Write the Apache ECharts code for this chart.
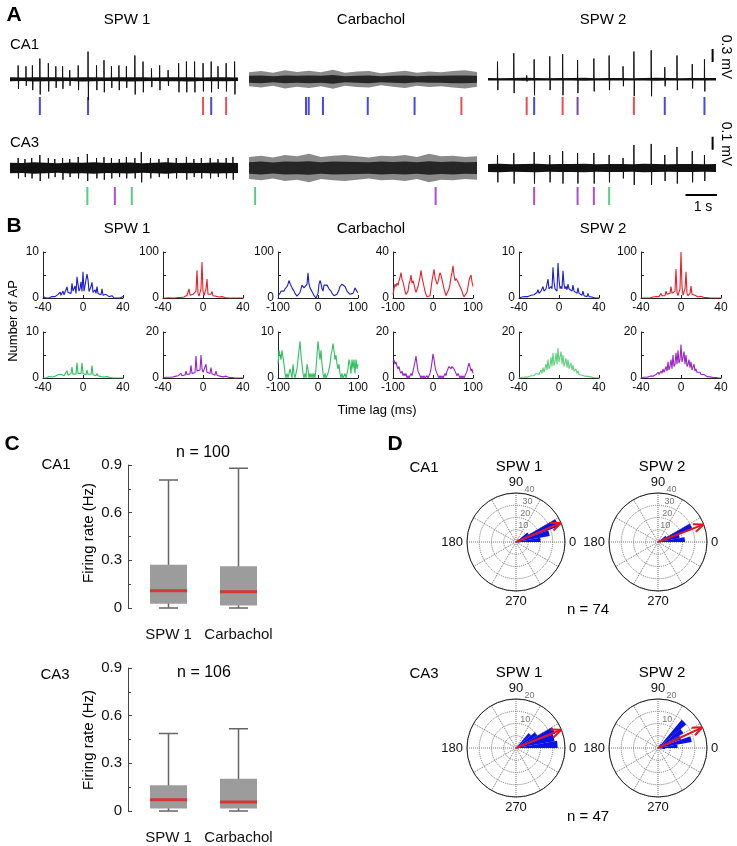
<!DOCTYPE html>
<html><head><meta charset="utf-8">
<script src="https://cdn.jsdelivr.net/npm/echarts@6/dist/echarts.min.js"></script>
<style>html,body{margin:0;padding:0;background:#fff}#c{width:737px;height:846px}</style>
</head><body><div id="c"></div>
<script>
// ================= DATA =================
// Panel A: spike times (s), peak (mV), trough (mV); noise envelope half-widths (mV)
const ca1Spw1SpikeT = [0.24,0.47,0.66,0.88,1.13,1.35,1.55,1.76,2.01,2.30,2.55,2.77,2.99,3.21,3.43,3.68,3.92,4.17,4.41,4.66,4.97,5.20,5.44,5.69,5.93,6.13,6.37,6.62];
const ca1Spw1Peak = [0.32,0.30,0.32,0.48,0.37,0.30,0.30,0.21,0.32,0.64,0.32,0.44,0.30,0.32,0.30,0.55,0.41,0.25,0.32,0.21,0.37,0.41,0.41,0.37,0.41,0.30,0.37,0.41];
const ca1Spw1Trough = [-0.22,-0.15,-0.25,-0.35,-0.28,-0.2,-0.22,-0.15,-0.25,-0.48,-0.25,-0.3,-0.2,-0.25,-0.2,-0.35,-0.3,-0.18,-0.25,-0.15,-0.3,-0.3,-0.3,-0.28,-0.3,-0.22,-0.28,-0.35];
const ca1Spw1Noise = [0.045,0.04,0.05,0.045,0.045,0.04,0.05,0.045,0.04,0.045,0.05,0.045,0.04,0.045,0.045,0.05,0.04,0.045,0.045,0.04];
const ca1CarbNoiseOuter = [0.16,0.19,0.15,0.21,0.17,0.2,0.16,0.22,0.15,0.18,0.19,0.14,0.17,0.2,0.15,0.18,0.16,0.19,0.21,0.17];
const ca1CarbNoiseInner = [0.08,0.09,0.07,0.09,0.08,0.09,0.08,0.1,0.07,0.08,0.09,0.07,0.08,0.09,0.07,0.08,0.08,0.09,0.09,0.08];
const ca1Spw2SpikeT = [0.28,0.76,1.14,1.36,1.82,2.20,2.64,3.12,3.57,3.98,4.30,4.81,5.21,5.57,6.02,6.38];
const ca1Spw2Peak = [0.41,0.60,0.09,0.46,0.53,0.58,0.44,0.48,0.55,0.30,0.64,0.67,0.28,0.55,0.35,0.46];
const ca1Spw2Trough = [-0.25,-0.32,-0.05,-0.37,-0.25,-0.37,-0.32,-0.28,-0.25,-0.16,-0.39,-0.39,-0.16,-0.25,-0.21,-0.28];
const ca1Spw2Noise = [0.03,0.025,0.03,0.035,0.03,0.025,0.03,0.03,0.035,0.025,0.03,0.03,0.025,0.03,0.035,0.03,0.025,0.03,0.03,0.03];

const ca3Spw1SpikeT = [0.24,0.44,0.64,0.88,1.13,1.32,1.55,1.76,2.01,2.28,2.55,2.77,2.99,3.22,3.43,3.68,3.87,4.14,4.39,4.66,4.90,5.20,5.42,5.64,5.90,6.13,6.37,6.57];
const ca3Spw1Peak = [0.077,0.069,0.077,0.10,0.077,0.069,0.077,0.069,0.085,0.108,0.077,0.085,0.077,0.069,0.085,0.077,0.123,0.077,0.069,0.077,0.077,0.085,0.069,0.077,0.077,0.069,0.077,0.085];
const ca3Spw1Trough = [-0.08,-0.07,-0.08,-0.1,-0.08,-0.07,-0.09,-0.07,-0.08,-0.1,-0.08,-0.09,-0.08,-0.07,-0.08,-0.08,-0.11,-0.08,-0.07,-0.08,-0.08,-0.09,-0.07,-0.08,-0.08,-0.07,-0.08,-0.09];
const ca3Spw1Noise = [0.04,0.038,0.045,0.04,0.036,0.042,0.04,0.045,0.038,0.04,0.043,0.037,0.04,0.044,0.039,0.041,0.038,0.043,0.04,0.039];
const ca3CarbNoiseOuter = [0.085,0.095,0.08,0.1,0.09,0.11,0.085,0.095,0.1,0.09,0.08,0.095,0.09,0.1,0.085,0.11,0.09,0.095,0.085,0.09];
const ca3CarbNoiseInner = [0.045,0.05,0.042,0.05,0.048,0.052,0.045,0.05,0.048,0.046,0.044,0.05,0.047,0.05,0.045,0.052,0.046,0.05,0.045,0.047];
const ca3Spw2SpikeT = [0.28,0.76,1.36,1.82,2.20,2.64,3.12,3.57,3.98,4.30,4.81,5.21,5.57,6.02,6.38];
const ca3Spw2Peak = [0.10,0.115,0.123,0.10,0.13,0.115,0.115,0.10,0.077,0.177,0.185,0.10,0.162,0.13,0.10];
const ca3Spw2Trough = [-0.11,-0.12,-0.12,-0.11,-0.12,-0.12,-0.12,-0.11,-0.08,-0.13,-0.13,-0.1,-0.12,-0.11,-0.1];
const ca3Spw2Noise = [0.03,0.032,0.028,0.03,0.033,0.029,0.031,0.03,0.032,0.028,0.03,0.031,0.029,0.032,0.03,0.028,0.031,0.03,0.029,0.03];

// unit rasters: times (s) and unit colour keys
const ca1Spw1UnitT = [0.88,2.30,5.69,5.93,6.37];   const ca1Spw1UnitC = ['b','b','r','b','r'];
const ca1CarbUnitT = [1.68,1.76,2.18,3.50,4.88,6.26]; const ca1CarbUnitC = ['b','b','b','b','b','r'];
const ca1Spw2UnitT = [1.14,1.36,2.20,2.64,4.30,5.21,6.38]; const ca1Spw2UnitC = ['r','b','r','d','r','b','b'];
const ca3Spw1UnitT = [2.28,3.09,3.59];  const ca3Spw1UnitC = ['g','p','g'];
const ca3CarbUnitT = [0.18,5.50];       const ca3CarbUnitC = ['g','p'];
const ca3Spw2UnitT = [1.36,2.64,3.12,3.57]; const ca3Spw2UnitC = ['p','p','p','g'];

// scale bars
const scaleCA1 = 0.3, scaleCA3 = 0.1, scaleTime = 1;

// Panel B: cross-correlograms (number of AP per lag bin)
const hSpw1Ca1Blue = [0.3,0,0,0,0.3,0,0,0.3,0,0.3, 0,0.4,0.3,0.5,0.3,0.8,0.5,1.3,0.6,0.8, 1.5,0.7,1.0,0.8,2.4,1.2,1.0,1.6,1.0,3.2, 1.5,1.2,2.6,1.0,4.6,4.8,1.5,2.0,3.5,1.4, 5.7, 1.5,1.8,1.4,5.2,4.0,1.4,1.2,2.5,3.4,1.2, 1.0,1.8,1.0,2.5,1.0,0.9,1.2,0.7,2.0,0.6, 0.7,0.5,0.8,0.4,0.5,0.3,0.4,0.2,0.5,0.2, 0,0.2,0,0,0,0,0,0,0,0.3];
const hSpw1Ca1Red = [0,0,0,0,0,0,0.5,0,0,0, 1,0,0,1,0,1,1,2,1,2, 4,2,3,2,6,8,20,6,4,5, 8,4,5,15,60,10,4,6,20,78, 15, 5,5,20,41,8,4,4,8,14,5, 3,3,4,6,2,2,2,1,3,1, 1,1,0,1,0,0,0,0,0,0, 0,0,0,0,0,0,0,0,0,0];
const hCarbCa1Blue = [5,8,10,15,12,18,15,20,22,25, 30,38,32,28,22,18,15,10,6,4, 3,8,12,20,28,30,22,25,18,30, 55,30,22,25,18,10,5,2,0,0, 10, 30,38,32,20,15,28,30,25,28,25, 20,18,15,10,8,5,3,5,8,12, 18,25,22,30,33,28,25,20,15,18, 12,8,5,6,10,15,22,20,14,12];
const hCarbCa1Red = [3,8,12,10,13,11,15,18,22,16, 14,10,6,3,2,6,12,15,20,13, 15,12,8,5,6,10,14,18,24,18, 14,10,6,3,1,0,0,2,8,15, 20, 25,18,15,12,14,18,22,20,16,12, 8,5,2,1,3,8,12,18,22,28, 20,15,17,18,14,12,10,8,6,3, 1,0,2,5,10,15,18,20,14,10];
const hSpw2Ca1Blue = [0,0,0,0.2,0,0.2,0.3,0.2,0.4,0.3, 0.5,0.4,0.6,0.5,0.8,0.7,1.0,0.8,1.2,1.8, 1.0,1.3,1.5,1.2,2.5,1.5,1.6,2.0,1.8,4.1, 2.0,1.8,2.5,2.0,6.7,3.5,2.0,2.2,1.5,7.6, 4.0, 2.0,2.5,2.0,5.9,3.0,2.0,2.5,1.8,3.0,2.0, 1.8,2.0,1.5,2.8,1.5,1.3,1.5,1.0,2.2,1.0, 0.8,1.0,0.6,1.5,0.5,0.4,0.5,0.3,1.0,0.3, 0.2,0.3,0.2,0.6,0.1,0,0.1,0,0,0];
const hSpw2Ca1Red = [0,0,0,0,0,0,0,0,1,0, 1,1,2,1,2,3,2,4,3,4, 10,5,4,6,5,15,8,6,8,10, 25,10,6,8,15,63,12,5,8,20, 100, 25,6,8,20,57,10,5,6,10,26, 8,4,4,6,10,4,2,3,2,4, 2,1,1,2,1,1,0,1,0,1, 0,0,0,0,0,0,0,0,0,0];
const hSpw1Ca3Green = [0,0,0.1,0,0.2,0.1,0.3,0.2,0.4,0.2, 0.5,0.3,0.4,0.6,0.3,0.7,0.4,0.5,0.8,0.4, 0.9,0.5,0.6,0.8,1.6,0.6,0.7,0.9,1.0,2.4, 0.8,1.0,1.2,0.9,3.3,1.0,0.9,1.2,1.0,3.3, 1.0, 0.8,1.0,0.7,1.7,0.8,0.7,0.9,0.8,2.7,0.7, 0.6,0.8,0.5,1.0,0.5,0.4,0.6,0.3,0.7,0.3, 0.2,0.4,0.2,0.3,0.1,0.2,0.1,0.2,0.1,0, 0,0,0,0,0,0,0,0,0,0];
const hSpw1Ca3Purple = [0,0,0,0.3,0,0.2,0.3,0.2,0.5,0.3, 0.5,0.4,0.7,0.5,0.8,1.0,0.8,1.0,2.0,1.0, 1.2,1.5,1.3,3.0,1.5,1.8,2.0,1.8,5.5,2.0, 2.2,2.5,2.3,9.6,3.0,2.5,3.0,3.5,10,4.0, 2.5, 3.0,2.5,6.0,2.5,2.0,2.2,2.0,4.5,1.8,1.5, 1.6,1.2,3.0,1.2,1.0,1.0,0.8,1.5,0.6,0.5, 0.6,0.4,0.8,0.3,0.3,0.2,0.3,0.2,0.2,0.1, 0,0,0,0,0,0,0,0,0,0];
const hCarbCa3Green = [3,6,6,4,6,6,3,1,0,1, 0,0,2,1,0,3,1,0,1,2, 4,6,8,5,3,1,0,1,0,3, 2,0,1,0,1,0,1,0,2,5, 8, 8,4,6,3,1,0,1,0,0,1, 2,3,5,6,7.5,6,4,5,3,2, 3,1,0,1,0,0,1,0,0,2, 4,3,1,4,2,4,1,4,2,3];
const hCarbCa3Purple = [7,8,6,7,5,4,5,3,2,3, 1,2,1,2,0,1,0,1,2,1, 3,5,7,9.5,6,3,2,1,0,1, 0,1,0,0,1,0,1,2,4,7, 10.5, 8,5,3,2,1,0,1,0,1,0, 1,2,1,3,4,5,5,4,5,5, 4,3,2,1,2,1,0,1,0,1, 0,1,2,3,5,6.5,5,3,4,2];
const hSpw2Ca3Green = [0,0,0,0.2,0.3,0.2,0.4,0.3,0.5,0.4, 0.8,0.6,1.0,0.8,1.5,1.0,1.2,2.0,1.3,2.8, 1.5,2.0,3.5,2.0,4.5,2.5,3.0,6.0,3.5,8.0, 4.0,5.0,9.0,5.0,11,5.5,7.0,11,6.0,13, 7.0, 6.5,11.5,6.0,10,5.0,5.5,8.5,4.5,8.0,4.0, 4.0,6.5,3.5,5.5,3.0,2.5,4.0,2.0,3.0,1.5, 1.5,2.0,1.2,1.5,0.8,0.8,1.0,0.5,0.7,0.4, 0.3,0.5,0.2,0.3,0.1,0.2,0,0.1,0,0];
const hSpw2Ca3Purple = [0,0.2,0,0.3,0.2,0.5,0.3,0.6,0.5,0.8, 0.6,1.0,0.8,1.2,1.0,1.5,1.2,2.5,1.5,2.0, 3.0,2.0,4.0,2.5,3.0,5.0,3.0,7.0,3.5,5.0, 8.0,4.0,10,5.0,6.0,11,6.0,12,6.5,8.0, 14.5, 7.0,9.0,11.5,6.0,10,5.0,6.0,8.0,4.5,7.0, 3.5,4.0,6.0,3.0,4.0,2.5,3.0,2.0,2.5,1.5, 2.0,1.0,1.5,0.8,1.0,0.6,0.8,0.5,0.5,0.3, 0.4,0.2,0.3,0.2,0.2,0.1,0.1,0,0.1,0];
const histYMax = [10,100,100,40,10,100, 10,20,10,20,20,20];

// Panel C: firing rate box statistics (Hz)
const boxCats = ['SPW 1','Carbachol'];
const ca1Min = [0,0], ca1Q1 = [0.027,0.015], ca1Med = [0.109,0.103], ca1Q3 = [0.272,0.262], ca1Max = [0.806,0.879];
const ca3Min = [0,0], ca3Q1 = [0.015,0.015], ca3Med = [0.071,0.057], ca3Q3 = [0.162,0.203], ca3Max = [0.487,0.518];

// Panel D: phase rose histograms (36 bins of 10 deg) and mean vectors
const roseCa1Spw1 = [20,28,37,12,3,0,0,0,0,0,0,0,0,0,0,0,0,0,0,0,0,0,0,0,0,0,0,0,0,0,0,0,0,0,0,3];
const roseCa1Spw2 = [22,18,30,8,2,0,0,0,0,0,0,0,0,0,0,0,0,0,0,0,0,0,0,0,0,0,0,0,0,0,0,0,0,0,0,2];
const roseCa3Spw1 = [17,16,17,10,8,0,0,0,0,0,0,0,0,0,0,0,0,0,0,0,0,0,0,0,0,0,0,0,0,0,0,0,0,0,0,1];
const roseCa3Spw2 = [8,14,10,12,15,2,0,0,0,0,0,0,0,0,0,0,0,0,0,0,0,0,0,0,0,0,0,0,0,0,0,0,0,0,0,3];
const vecAngle = [23,21,22,25];
const vecLength = [40,40,20,20];

// ================= BUILD =================
const FONT = "'Liberation Sans', Arial, Helvetica, sans-serif";
const C = {b:'#1c1cd6', r:'#e8202a', g:'#30c060', p:'#9b22c9', d:'#4c1a8a', lg:'#5fd07e'};
const T_DUR = 6.72;
const grids=[], xAxes=[], yAxes=[], series=[], polars=[], angleAxes=[], radiusAxes=[], graphics=[];

function addGrid(g, xa, ya){ grids.push(g); const gi=grids.length-1; xa.gridIndex=gi; ya.gridIndex=gi; xAxes.push(xa); yAxes.push(ya); return gi; }

function addBand(gi, env, color){
  const n=env.length;
  const xs=env.map((_,i)=> i*T_DUR/(n-1));
  series.push({type:'custom', xAxisIndex:gi, yAxisIndex:gi, silent:true, clip:false,
    encode:{x:0, y:[1,2]},
    data: xs.map((x,i)=>[x,-env[i],env[i]]),
    renderItem:(params, api)=>{
      if (params.dataIndex!==0) return null;
      const up = xs.map((x,i)=>api.coord([x, env[i]]));
      const lo = xs.map((x,i)=>api.coord([x, -env[i]])).reverse();
      return {type:'polygon', shape:{points: up.concat(lo)}, style:{fill:color}};
    }});
}
function addTrace(left, top, height, ymin, ymax, sT, sP, sN, layers){
  const gi = addGrid({left, top, width:228, height}, {type:'value', min:0, max:T_DUR, show:false}, {type:'value', min:ymin, max:ymax, show:false});
  layers.forEach(L=> addBand(gi, L.env, L.color));
  if (sT) {
    const pts=[[0,0]];
    sT.forEach((t,i)=>{ pts.push([t-0.004,0],[t,sP[i]],[t+0.01,sN[i]],[t+0.018,0]); });
    pts.push([T_DUR,0]);
    series.push({type:'line', xAxisIndex:gi, yAxisIndex:gi, symbol:'none', silent:true, lineStyle:{color:'#111', width:1}, data:pts});
  }
  return gi;
}
function addRaster(left, top, times, keys){
  const gi = addGrid({left, top, width:228, height:18}, {type:'value', min:0, max:T_DUR, show:false}, {type:'value', min:0, max:1, show:false});
  series.push({type:'scatter', xAxisIndex:gi, yAxisIndex:gi, symbol:'rect', symbolSize:[2,18], silent:true,
    data: times.map((t,i)=>({value:[t,0.5], itemStyle:{color:C[keys[i]]}}))});
  return gi;
}
// CA1 row: 43.3 px/mV, baseline y=79.3 ; CA3 row: 130 px/mV, baseline y=168
const ca1Top = 79.3-0.85*43.3, ca1H = 1.6*43.3;
const ca3Top = 168-0.3*130, ca3H = 0.55*130;
const colLeft = [10,249,488];
addTrace(colLeft[0], ca1Top, ca1H, -0.75, 0.85, ca1Spw1SpikeT, ca1Spw1Peak, ca1Spw1Trough, [{env:ca1Spw1Noise, color:'#111'}]);
addTrace(colLeft[1], ca1Top, ca1H, -0.75, 0.85, null, null, null, [{env:ca1CarbNoiseOuter, color:'#8a8a8a'},{env:ca1CarbNoiseInner, color:'#262626'}]);
const gCa1Spw2 = addTrace(colLeft[2], ca1Top, ca1H, -0.75, 0.85, ca1Spw2SpikeT, ca1Spw2Peak, ca1Spw2Trough, [{env:ca1Spw2Noise, color:'#111'}]);
addTrace(colLeft[0], ca3Top, ca3H, -0.25, 0.3, ca3Spw1SpikeT, ca3Spw1Peak, ca3Spw1Trough, [{env:ca3Spw1Noise, color:'#111'}]);
addTrace(colLeft[1], ca3Top, ca3H, -0.25, 0.3, null, null, null, [{env:ca3CarbNoiseOuter, color:'#8a8a8a'},{env:ca3CarbNoiseInner, color:'#262626'}]);
const gCa3Spw2 = addTrace(colLeft[2], ca3Top, ca3H, -0.25, 0.3, ca3Spw2SpikeT, ca3Spw2Peak, ca3Spw2Trough, [{env:ca3Spw2Noise, color:'#111'}]);
addRaster(colLeft[0], 97, ca1Spw1UnitT, ca1Spw1UnitC);
addRaster(colLeft[1], 97, ca1CarbUnitT, ca1CarbUnitC);
addRaster(colLeft[2], 97, ca1Spw2UnitT, ca1Spw2UnitC);
addRaster(colLeft[0], 187, ca3Spw1UnitT, ca3Spw1UnitC);
addRaster(colLeft[1], 187, ca3CarbUnitT, ca3CarbUnitC);
const gR = addRaster(colLeft[2], 187, ca3Spw2UnitT, ca3Spw2UnitC);
// scale bars
series.push({type:'line', xAxisIndex:gCa1Spw2, yAxisIndex:gCa1Spw2, symbol:'none', clip:false, silent:true, lineStyle:{color:'#000', width:2}, data:[[6.62,0.4],[6.62,0.4+scaleCA1]]});
series.push({type:'line', xAxisIndex:gCa3Spw2, yAxisIndex:gCa3Spw2, symbol:'none', clip:false, silent:true, lineStyle:{color:'#000', width:2}, data:[[6.62,0.14],[6.62,0.14+scaleCA3]]});
series.push({type:'line', xAxisIndex:gR, yAxisIndex:gR, symbol:'none', clip:false, silent:true, lineStyle:{color:'#000', width:2}, data:[[5.82,0.55],[5.82+scaleTime,0.55]]});

// Panel B
const lagsSpw = Array.from({length:81},(_,i)=>i-40);
const lagsCarb = Array.from({length:81},(_,i)=>i*2.5-100);
const histData = [hSpw1Ca1Blue,hSpw1Ca1Red,hCarbCa1Blue,hCarbCa1Red,hSpw2Ca1Blue,hSpw2Ca1Red,hSpw1Ca3Green,hSpw1Ca3Purple,hCarbCa3Green,hCarbCa3Purple,hSpw2Ca3Green,hSpw2Ca3Purple];
const histColor = [C.b,C.r,C.b,C.r,C.b,C.r,C.g,C.p,C.g,C.p,C.lg,C.p];
const histCarb = [false,false,true,true,false,false,false,false,true,true,false,false];
const histLeft = [43,163,278,393,519,641];
const histTop = [252,332];
histData.forEach((h,k)=>{
  const col=k%6, row=Math.floor(k/6), carb=histCarb[k], M=histYMax[k];
  const lags = carb?lagsCarb:lagsSpw;
  const gi = addGrid({left:histLeft[col], top:histTop[row], width:80, height:46},
    {type:'value', min:carb?-100:-40, max:carb?100:40, interval:carb?100:40,
     axisLine:{show:true, onZero:false, lineStyle:{color:'#222',width:1}}, axisTick:{show:true, inside:true, length:3, lineStyle:{color:'#222'}},
     axisLabel:{fontSize:12, color:'#111', margin:4, fontFamily:FONT, showMinLabel:true, showMaxLabel:true}, splitLine:{show:false}},
    {type:'value', min:0, max:M, interval:M/2,
     axisLine:{show:true, onZero:false, lineStyle:{color:'#222',width:1}}, axisTick:{show:true, inside:true, length:3, lineStyle:{color:'#222'}},
     axisLabel:{fontSize:12, color:'#111', margin:4, fontFamily:FONT, formatter:v=> (v===0||v===M)?String(v):''}, splitLine:{show:false}});
  series.push({type:'line', xAxisIndex:gi, yAxisIndex:gi, symbol:'none', silent:true, lineStyle:{color:histColor[k], width:1.1}, data: lags.map((x,i)=>[x,h[i]])});
});

// Panel C
function addBox(top, mins, q1, med, q3, maxs){
  const gi = addGrid({left:133.5, top, width:140, height:143},
    {type:'category', data:boxCats, axisLine:{show:false}, axisTick:{show:false}, axisLabel:{interval:0, fontSize:15, color:'#111', margin:19, fontFamily:FONT}},
    {type:'value', min:0, max:0.9, interval:0.3, offset:5.5,
     axisLine:{show:true, onZero:false, lineStyle:{color:'#444',width:1}}, axisTick:{show:true, inside:true, length:4, lineStyle:{color:'#444'}},
     minorTick:{show:true, splitNumber:2, length:3, lineStyle:{color:'#444'}},
     axisLabel:{fontSize:15, color:'#111', margin:6, fontFamily:FONT, formatter:v=> v===0?'0':v.toFixed(1)}, splitLine:{show:false}});
  // whiskers with half-width caps (the box part collapsed onto the median, hidden under the box)
  series.push({type:'boxplot', xAxisIndex:gi, yAxisIndex:gi, silent:true, z:2, boxWidth:[19,19], itemStyle:{color:'#666', borderColor:'#666', borderWidth:1.5},
    data: mins.map((m,i)=>[m,med[i],med[i],med[i],maxs[i]])});
  const st='box'+gi;
  series.push({type:'bar', xAxisIndex:gi, yAxisIndex:gi, silent:true, z:4, stack:st, barWidth:37, itemStyle:{color:'rgba(0,0,0,0)'}, data:q1.slice()});
  series.push({type:'bar', xAxisIndex:gi, yAxisIndex:gi, silent:true, z:4, stack:st, barWidth:37, itemStyle:{color:'#9c9c9c'}, data:q3.map((v,i)=>v-q1[i])});
  series.push({type:'scatter', xAxisIndex:gi, yAxisIndex:gi, silent:true, symbol:'rect', symbolSize:[37,3], itemStyle:{color:'#e0201b'}, z:6,
    data: med.map((m,i)=>[i,m])});
}
addBox(465, ca1Min, ca1Q1, ca1Med, ca1Q3, ca1Max);
addBox(668, ca3Min, ca3Q1, ca3Med, ca3Q3, ca3Max);

// Panel D
const roseBins = Array.from({length:36},(_,i)=>String(i*10));
function addPolar(cx, cy, rmax, step, labelVals, rose, ang, len){
  polars.push({center:[cx,cy], radius:[0,49]}); const pA=polars.length-1;
  angleAxes.push({polarIndex:pA, type:'value', min:0, max:360, interval:30, startAngle:0, clockwise:false,
    axisLine:{show:true, lineStyle:{color:'#222', width:1}}, axisTick:{show:false},
    axisLabel:{show:true, margin:4, fontSize:13, color:'#111', fontFamily:FONT, formatter:v=> (v%90===0 && v<360)?String(v):''},
    splitLine:{show:true, lineStyle:{color:'#777', type:'dotted', width:1}}});
  radiusAxes.push({polarIndex:pA, type:'value', min:0, max:rmax, interval:step, axisLine:{show:false}, axisTick:{show:false}, axisLabel:{show:false},
    splitLine:{show:true, lineStyle:{color:'#777', type:'dotted', width:1}}});
  polars.push({center:[cx,cy], radius:[0,49]}); const pB=polars.length-1;
  angleAxes.push({polarIndex:pB, type:'category', data:roseBins, startAngle:0, clockwise:false, boundaryGap:true, show:false});
  radiusAxes.push({polarIndex:pB, type:'value', min:0, max:rmax, show:false});
  series.push({type:'bar', coordinateSystem:'polar', polarIndex:pB, silent:true, barCategoryGap:'0%', itemStyle:{color:'#0a14e6'}, data:rose});
  series.push({type:'line', coordinateSystem:'polar', polarIndex:pA, silent:true, symbol:'none', lineStyle:{color:'#e8141c', width:2}, z:4, data:[[0,ang],[len,ang]]});
  series.push({type:'line', coordinateSystem:'polar', polarIndex:pA, silent:true, symbol:'none', lineStyle:{color:'#e8141c', width:2}, z:4, data:[[len*0.8,ang+6],[len,ang],[len*0.8,ang-6]]});
  series.push({type:'scatter', coordinateSystem:'polar', polarIndex:pA, silent:true, symbolSize:0, data:labelVals.map(v=>[v,80]),
    label:{show:true, position:[0,0], align:'left', verticalAlign:'bottom', fontSize:9, color:'#555', fontFamily:FONT, formatter:p=>String(p.value[0])}});
}
addPolar(516, 542, 40, 10, [10,20,30,40], roseCa1Spw1, vecAngle[0], vecLength[0]);
addPolar(658, 542, 40, 10, [10,20,30,40], roseCa1Spw2, vecAngle[1], vecLength[1]);
addPolar(516, 748, 20, 5, [10,20], roseCa3Spw1, vecAngle[2], vecLength[2]);
addPolar(658, 748, 20, 5, [10,20], roseCa3Spw2, vecAngle[3], vecLength[3]);

// Text
function txt(s,x,y,size,o){ o=o||{}; graphics.push({type:'text', x, y, rotation:o.rot||0, silent:true, z:10,
  style:{text:s, fill:o.color||'#000', fontSize:size, fontFamily:FONT, fontWeight:o.bold?'bold':'normal', align:o.align||'center', verticalAlign:'middle'}}); }
txt('A',14,15,21,{bold:true});
txt('SPW 1',127,20,15); txt('Carbachol',371,20,15); txt('SPW 2',603,20,15);
txt('CA1',10,45,15,{align:'left'}); txt('CA3',10,143,15,{align:'left'});
txt('0.3 mV',726,57,14,{rot:-Math.PI/2}); txt('0.1 mV',726,144,14,{rot:-Math.PI/2});
txt('1 s',703,207,14);
txt('B',14,226,21,{bold:true});
txt('SPW 1',127,229,15); txt('Carbachol',371,229,15); txt('SPW 2',603,229,15);
txt('Number of AP',13,321,13,{rot:Math.PI/2});
txt('Time lag (ms)',377,410,13);
txt('C',12,444,21,{bold:true});
txt('CA1',56,465,15); txt('n = 100',203,453,16); txt('Firing rate (Hz)',89,533,15,{rot:Math.PI/2});
txt('CA3',55,675,15); txt('n = 106',204,673,16); txt('Firing rate (Hz)',89,740,15,{rot:Math.PI/2});
txt('D',395,444,21,{bold:true});
txt('CA1',424,468,15); txt('SPW 1',519,467,15); txt('SPW 2',662,467,15);
txt('CA3',424,674,15); txt('SPW 1',519,673,15); txt('SPW 2',662,673,15);
txt('n = 74',588,610,15); txt('n = 47',588,817,15);

const chart = echarts.init(document.getElementById('c'), null, {renderer:'canvas'});
chart.setOption({
  animation:false, backgroundColor:'#fff',
  textStyle:{fontFamily:FONT},
  grid:grids, xAxis:xAxes, yAxis:yAxes, polar:polars, angleAxis:angleAxes, radiusAxis:radiusAxes,
  series, graphic:graphics
});
</script></body></html>
